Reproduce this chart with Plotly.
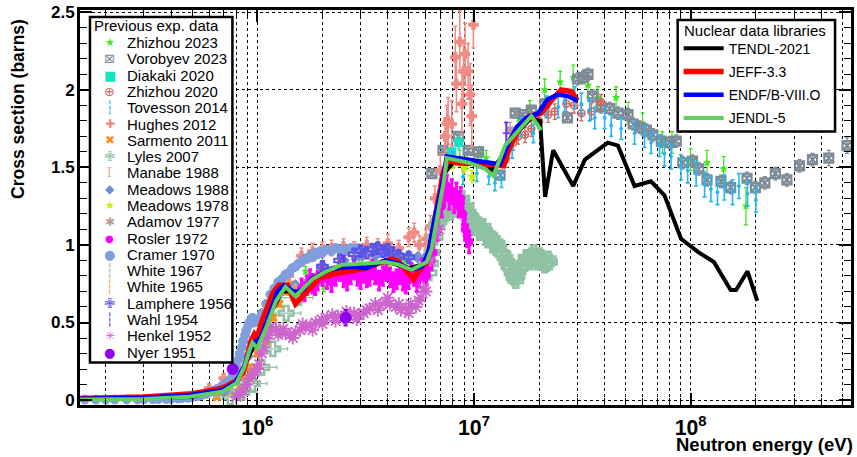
import numpy as np
import plotly.graph_objects as go

MEV = 1e6  # energies below are listed in MeV and converted to eV

# ---------------- Nuclear data libraries ----------------
tendl_E = [0.15, 0.5, 0.8, 0.95, 1.1, 1.3, 1.6, 2.0, 3.0, 4.0, 5.0, 6.0, 6.6, 7.2, 8.0, 10.0, 12.0, 14.0,
           16.0, 18.4, 20.2, 21.3, 23.2, 28.7, 32.5, 41.5, 46.2, 55.1, 65.6, 75.7, 90.3, 108, 128, 153, 162, 183, 203]
tendl_s = [0.005, 0.02, 0.11, 0.33, 0.5, 0.7, 0.7, 0.8, 0.87, 0.89, 0.85, 0.88, 1.15, 1.45, 1.53, 1.52, 1.48, 1.6,
           1.73, 1.82, 1.80, 1.31, 1.61, 1.38, 1.55, 1.66, 1.64, 1.38, 1.41, 1.32, 1.04, 0.955, 0.89, 0.71, 0.71, 0.83, 0.64]

jeff_E = [0.15, 0.3, 0.5, 0.69, 0.8, 0.86, 0.89, 0.935, 0.97, 1.0, 1.04, 1.1, 1.18, 1.26, 1.38, 1.5, 1.64, 1.93,
          2.21, 2.65, 3.16, 3.76, 4.19, 4.5, 5.0, 5.27, 5.55, 6.05, 6.38, 6.87, 7.2, 7.6, 8.3, 9.9, 11.9, 13.7,
          14.6, 16.3, 18.1, 20.4, 22.7, 25.3, 28.1, 30.0]
jeff_s = [0.01, 0.02, 0.04, 0.075, 0.125, 0.18, 0.25, 0.38, 0.425, 0.40, 0.49, 0.59, 0.69, 0.74, 0.74, 0.62, 0.68, 0.785,
          0.81, 0.83, 0.85, 0.89, 0.91, 0.89, 0.81, 0.78, 0.83, 0.89, 1.04, 1.29, 1.46, 1.55, 1.53, 1.53, 1.52, 1.51,
          1.63, 1.76, 1.83, 1.85, 1.93, 2.0, 1.99, 1.93]

endf_E = [0.15, 0.3, 0.487, 0.69, 0.798, 0.871, 0.935, 0.986, 1.04, 1.135, 1.24, 1.33, 1.506, 1.645, 1.795, 2.22,
          2.74, 3.16, 3.90, 4.49, 5.17, 5.75, 6.17, 6.63, 7.11, 7.49, 8.33, 9.94, 11.87, 13.2, 14.7, 15.75, 17.5,
          19.8, 21.9, 24.4, 27.1, 30.0]
endf_s = [0.008, 0.015, 0.032, 0.064, 0.117, 0.22, 0.34, 0.38, 0.40, 0.55, 0.70, 0.74, 0.69, 0.72, 0.785, 0.85,
          0.86, 0.85, 0.90, 0.88, 0.84, 0.86, 0.955, 1.19, 1.38, 1.57, 1.56, 1.54, 1.53, 1.52, 1.68, 1.76, 1.82,
          1.85, 1.94, 1.97, 1.96, 1.93]

jendl_E = [0.15, 0.3, 0.487, 0.69, 0.8, 0.87, 0.92, 0.95, 1.0, 1.1, 1.22, 1.35, 1.5, 1.65, 1.8, 2.07, 2.46, 3.16,
           3.91, 4.5, 5.16, 6.05, 6.38, 6.87, 7.24, 7.5, 8.2, 9.44, 11.3, 12.3, 13.9, 16.0, 18.4, 20.4]
jendl_s = [0.003, 0.006, 0.021, 0.053, 0.108, 0.21, 0.32, 0.37, 0.335, 0.467, 0.637, 0.73, 0.67, 0.73, 0.78, 0.828,
           0.873, 0.881, 0.89, 0.873, 0.84, 0.89, 0.976, 1.23, 1.40, 1.56, 1.55, 1.53, 1.49, 1.446, 1.64, 1.74, 1.83, 1.74]

# ---------------- Previous experimental data ----------------
zh23_E = [1.67, 2.03, 2.3, 4.8, 8.6, 9.3, 10.5, 10.8, 11.4, 14.5, 16.0, 18.1, 21.2, 25.0, 28.7, 33.6, 37.4,
          45.3, 51.4, 60.0, 74.0, 82.0, 100.0, 119.0, 142.0, 180.0]
zh23_s = [0.83, 0.73, 0.81, 0.90, 1.56, 1.54, 1.58, 1.58, 1.56, 1.62, 1.74, 1.87, 2.00, 2.05, 2.08, 2.03, 1.95,
          1.95, 1.85, 1.78, 1.66, 1.66, 1.55, 1.53, 1.49, 1.25]
zh23_err = [0.03, 0.03, 0.03, 0.03, 0.05, 0.05, 0.05, 0.05, 0.05, 0.06, 0.06, 0.06, 0.07, 0.07, 0.08, 0.08, 0.07,
            0.07, 0.07, 0.07, 0.07, 0.07, 0.07, 0.08, 0.08, 0.12]

vor_E = [6.4, 7.2, 8.5, 9.4, 10.5, 13.2, 15.5, 16.8, 18.4, 21.2, 27.0, 30.1, 31.9, 33.6, 35.3, 38.6, 42.3, 46.2,
         51.4, 54.3, 58.2, 62.5, 67.0, 73.2, 80.0, 85.8, 92.0, 102, 109, 119, 138, 153, 182, 199, 220, 246, 278,
         318, 365, 434, 527]
vor_s = [1.46, 1.61, 1.70, 1.61, 1.60, 1.45, 1.85, 1.84, 1.87, 1.91, 1.82, 2.07, 2.08, 2.10, 1.96, 1.89, 1.88, 1.85,
         1.84, 1.78, 1.76, 1.74, 1.71, 1.67, 1.66, 1.67, 1.53, 1.54, 1.49, 1.42, 1.41, 1.37, 1.43, 1.37, 1.40, 1.46,
         1.42, 1.51, 1.55, 1.56, 1.64]
vor_err = [0.03, 0.03, 0.03, 0.03, 0.03, 0.03, 0.03, 0.03, 0.03, 0.03, 0.03, 0.04, 0.04, 0.04, 0.04, 0.04, 0.04, 0.04,
           0.04, 0.04, 0.04, 0.04, 0.04, 0.04, 0.04, 0.04, 0.04, 0.04, 0.04, 0.04, 0.04, 0.04, 0.04, 0.04, 0.04, 0.04,
           0.04, 0.04, 0.04, 0.05, 0.05]

diak_E = [7.9, 8.5]
diak_s = [1.60, 1.66]
diak_err = [0.04, 0.04]

zh20_E = [14.0, 15.2, 16.0, 17.2, 18.4, 20.0, 22.0, 23.6, 26.7, 29.0, 31.3, 34.8, 38.6]
zh20_s = [1.55, 1.66, 1.70, 1.71, 1.75, 1.80, 1.84, 1.86, 1.91, 1.90, 1.85, 1.86, 1.92]
zh20_err = [0.05, 0.05, 0.05, 0.05, 0.05, 0.05, 0.05, 0.05, 0.05, 0.05, 0.05, 0.05, 0.05]

tov_E = [0.6, 0.7, 0.8, 0.9, 1.0, 1.2, 1.5, 2.0, 3.0, 4.0, 5.0, 6.0, 6.5, 7.0, 8.0, 8.9, 10.3, 11.7, 12.5, 13.4,
         15.0, 16.5, 18.8, 21.6, 24.5, 26.2, 29.2, 31.3, 34.2, 36.1, 40.1, 43.0, 47.8, 55.1, 61.2, 65.7, 71.8, 75.7,
         81.2, 90.3, 96.9, 106, 116, 124, 133, 143, 156, 167, 183, 200]
tov_s = [0.04, 0.06, 0.11, 0.28, 0.36, 0.62, 0.68, 0.82, 0.87, 0.88, 0.84, 0.88, 1.05, 1.38, 1.55, 1.44, 1.46, 1.44,
         1.40, 1.42, 1.62, 1.76, 1.72, 1.89, 1.89, 1.93, 1.95, 1.91, 1.87, 1.82, 1.82, 1.77, 1.75, 1.72, 1.70, 1.66,
         1.64, 1.59, 1.57, 1.50, 1.48, 1.46, 1.39, 1.36, 1.34, 1.37, 1.34, 1.38, 1.33, 1.29]
tov_err = [0.01, 0.01, 0.01, 0.02, 0.02, 0.02, 0.02, 0.02, 0.02, 0.02, 0.02, 0.02, 0.03, 0.04, 0.05, 0.05, 0.05, 0.05,
           0.05, 0.05, 0.06, 0.06, 0.06, 0.07, 0.07, 0.07, 0.07, 0.07, 0.07, 0.07, 0.07, 0.07, 0.07, 0.07, 0.07, 0.07,
           0.07, 0.08, 0.08, 0.08, 0.08, 0.08, 0.08, 0.08, 0.08, 0.08, 0.08, 0.08, 0.08, 0.08]

hug_E = [0.6, 0.7, 1.4, 1.6, 1.8, 2.0, 2.2, 2.5, 2.8, 3.2, 3.6, 4.0, 4.5, 5.0, 5.3, 5.6, 6.0, 6.3, 6.6, 7.0, 7.36,
         7.5, 7.6, 7.9, 8.2, 8.3, 8.6, 8.8, 8.95, 9.1, 9.4, 9.6, 9.77, 9.94]
hug_s = [0.075, 0.14, 0.80, 0.93, 0.96, 0.97, 0.98, 0.99, 0.97, 1.00, 0.99, 1.01, 0.98, 1.05, 1.08, 1.00, 1.04, 1.12,
         1.30, 1.48, 1.70, 1.78, 1.80, 1.78, 2.21, 2.04, 2.31, 1.91, 2.12, 2.23, 2.12, 1.97, 1.83, 2.42]
hug_err = [0.02, 0.03, 0.04, 0.05, 0.05, 0.05, 0.05, 0.05, 0.05, 0.05, 0.05, 0.06, 0.05, 0.06, 0.06, 0.06, 0.06, 0.07,
           0.08, 0.10, 0.12, 0.12, 0.15, 0.15, 0.20, 0.18, 0.20, 0.20, 0.20, 0.20, 0.18, 0.20, 0.20, 0.15]

sar_E = [0.65, 0.75, 0.83, 0.89, 0.92, 1.0, 1.1, 1.18, 1.26, 1.35, 1.42, 1.56, 1.73, 1.93, 2.1]
sar_s = [0.02, 0.05, 0.085, 0.15, 0.21, 0.30, 0.38, 0.53, 0.62, 0.70, 0.74, 0.72, 0.76, 0.80, 0.83]
sar_err = [0.01, 0.01, 0.01, 0.01, 0.02, 0.02, 0.02, 0.02, 0.02, 0.02, 0.02, 0.02, 0.02, 0.02, 0.02]

lyl_E = [0.75, 0.85, 0.95, 1.05, 1.18, 1.36, 1.55,
         6.2, 6.4, 6.6, 6.9, 7.1, 7.3, 7.5, 7.7, 7.9, 8.1, 8.3, 8.5, 8.7, 8.9, 9.1, 9.4, 9.7, 10.0, 10.4, 10.8, 11.2,
         11.6, 12.0, 12.5, 13.0, 13.6, 14.2, 14.8, 15.3, 15.8, 16.3, 17.0, 17.8, 18.5, 19.3, 20.0, 20.8, 21.6, 22.3,
         6.3, 6.75, 7.0, 7.4, 7.8, 8.0, 8.4, 8.8, 9.2, 9.55, 9.85, 10.2, 10.6, 11.0, 11.4, 11.8, 12.2, 12.8, 13.3,
         13.9, 14.5, 15.0, 15.6, 16.0, 16.7, 17.4, 18.1, 18.9, 19.6, 20.4, 21.2, 22.0]
lyl_s = [0.02, 0.05, 0.106, 0.21, 0.33, 0.56, 0.66,
         0.82, 0.95, 1.05, 1.15, 1.20, 1.22, 1.24, 1.23, 1.25, 1.27, 1.26, 1.29, 1.27, 1.25, 1.22, 1.21, 1.17, 1.16,
         1.13, 1.10, 1.08, 1.07, 1.04, 1.02, 0.98, 0.94, 0.89, 0.85, 0.79, 0.80, 0.85, 0.88, 0.91, 0.93, 0.91, 0.93,
         0.90, 0.88, 0.89,
         0.88, 1.12, 1.17, 1.27, 1.21, 1.29, 1.23, 1.30, 1.25, 1.19, 1.13, 1.15, 1.08, 1.12, 1.05, 1.06, 1.00, 1.01,
         0.95, 0.92, 0.86, 0.82, 0.77, 0.83, 0.86, 0.92, 0.89, 0.95, 0.89, 0.92, 0.87, 0.91]
lyl_xerr = [0.12, 0.14, 0.16, 0.18, 0.20, 0.23, 0.26] + [0.0] * 71

man_E = [1.5, 2.0, 2.6, 3.3, 4.1, 5.0]
man_s = [0.72, 0.83, 0.87, 0.88, 0.89, 0.86]
man_err = [0.03, 0.03, 0.03, 0.03, 0.03, 0.03]

mea88_E = [0.7, 0.8, 0.9, 1.0, 1.2, 1.5, 2.0, 2.5, 3.0, 3.5, 4.0, 4.5, 5.0, 5.5, 6.0]
mea88_s = [0.055, 0.13, 0.28, 0.40, 0.66, 0.74, 0.86, 0.90, 0.92, 0.93, 0.95, 0.94, 0.93, 0.92, 0.92]
mea88_err = [0.01, 0.01, 0.02, 0.02, 0.02, 0.02, 0.02, 0.02, 0.02, 0.02, 0.02, 0.02, 0.02, 0.02, 0.02]

mea78_E = [1.0, 1.5, 2.0, 3.0, 4.0, 5.0, 6.0, 8.0, 9.0, 9.8]
mea78_s = [0.38, 0.72, 0.82, 0.87, 0.88, 0.85, 0.88, 1.53, 1.50, 1.44]
mea78_err = [0.02, 0.02, 0.02, 0.02, 0.02, 0.02, 0.02, 0.04, 0.04, 0.04]

ada_E = [1.5, 2.5, 4.5, 14.7]
ada_s = [0.71, 0.86, 0.89, 1.74]
ada_err = [0.03, 0.03, 0.03, 0.05]

ros_E = [1.6, 1.7, 1.8, 1.9, 2.1, 2.3, 2.5, 2.7, 2.9, 3.1, 3.3, 3.5, 3.8, 4.1, 4.4, 4.7, 5.0, 5.3, 5.6, 5.9, 6.2,
         6.5, 6.8, 7.1, 7.3, 7.5, 7.7, 7.9, 8.1, 8.3, 8.5, 8.7, 8.9, 9.1, 9.3, 9.5,
         1.65, 1.75, 1.85, 2.0, 2.2, 2.4, 2.6, 2.8, 3.0, 3.2, 3.4, 3.65, 3.95, 4.25, 4.55, 4.85, 5.15, 5.45, 5.75,
         6.05, 6.35]
ros_s = [0.72, 0.74, 0.75, 0.77, 0.78, 0.80, 0.79, 0.81, 0.80, 0.82, 0.80, 0.81, 0.80, 0.79, 0.78, 0.77, 0.78, 0.80,
         0.79, 0.82, 0.86, 0.95, 1.10, 1.25, 1.33, 1.38, 1.30, 1.35, 1.28, 1.33, 1.25, 1.30, 1.20, 1.10, 1.06, 1.02,
         0.70, 0.78, 0.74, 0.80, 0.76, 0.83, 0.77, 0.84, 0.78, 0.79, 0.84, 0.77, 0.83, 0.76, 0.81, 0.75, 0.82, 0.76,
         0.85, 0.80, 0.90]
ros_err = [0.06, 0.06, 0.06, 0.06, 0.06, 0.06, 0.06, 0.06, 0.06, 0.06, 0.06, 0.06, 0.06, 0.06, 0.06, 0.06, 0.06, 0.06,
           0.06, 0.06, 0.06, 0.06, 0.07, 0.07, 0.07, 0.07, 0.07, 0.07, 0.07, 0.07, 0.07, 0.07, 0.07, 0.07, 0.07, 0.07,
           0.06, 0.06, 0.06, 0.06, 0.06, 0.06, 0.06, 0.06, 0.06, 0.06, 0.06, 0.06, 0.06, 0.06, 0.06, 0.06, 0.06, 0.06,
           0.06, 0.06, 0.06]

cra_E = [0.16, 0.2, 0.25, 0.3, 0.35, 0.4, 0.45, 0.5, 0.55, 0.6, 0.65, 0.7, 0.74, 0.77, 0.8, 0.83, 0.86, 0.89,
         0.92, 0.95, 1.0, 1.05, 1.1, 1.2, 1.3, 1.4, 1.5, 1.6, 1.7, 1.8, 1.9, 2.0, 2.2, 2.4, 2.6, 2.8, 3.0,
         0.18, 0.22, 0.28, 0.33, 0.38, 0.43, 0.48, 0.53, 0.58, 0.63, 0.68, 0.72, 0.76, 0.79, 0.82, 0.85, 0.88, 0.91,
         0.94, 0.97, 1.15, 1.25, 1.35, 1.45, 1.55, 1.65, 1.75, 1.85, 1.95, 2.1, 2.3, 2.5, 2.7, 2.9]
cra_s = [0.003, 0.003, 0.004, 0.005, 0.006, 0.008, 0.012, 0.02, 0.03, 0.05, 0.07, 0.10, 0.12, 0.16, 0.22, 0.30,
         0.38, 0.45, 0.50, 0.53, 0.52, 0.56, 0.62, 0.72, 0.78, 0.82, 0.86, 0.89, 0.91, 0.92, 0.94, 0.95, 0.96, 0.97,
         0.96, 0.97, 0.96,
         0.003, 0.003, 0.004, 0.005, 0.007, 0.010, 0.015, 0.025, 0.04, 0.06, 0.085, 0.11, 0.14, 0.19, 0.26, 0.34,
         0.42, 0.48, 0.52, 0.50, 0.68, 0.76, 0.81, 0.85, 0.88, 0.91, 0.93, 0.95, 0.96, 0.97, 0.98, 0.97, 0.98, 0.98]

w67_E = [2.0, 3.0, 4.0, 5.0, 6.0]
w67_s = [0.84, 0.87, 0.88, 0.85, 0.88]
w65_E = [1.0, 1.5, 2.0, 3.0]
w65_s = [0.38, 0.70, 0.80, 0.86]

lam_E = [2.0, 2.4, 2.8, 3.0, 3.2, 3.4, 3.6, 3.8, 4.0, 4.2, 4.5, 5.0]
lam_s = [0.86, 0.90, 0.94, 0.96, 0.95, 0.97, 0.98, 0.96, 0.97, 0.95, 0.93, 0.92]
lam_err = [0.04, 0.04, 0.04, 0.04, 0.04, 0.04, 0.04, 0.04, 0.04, 0.04, 0.04, 0.04]

wahl_E = [2.5, 14.1]
wahl_s = [0.87, 1.72]
wahl_err = [0.06, 0.07]

hen_E = [0.80, 0.86, 0.92, 0.97, 1.02, 1.07, 1.12, 1.17, 1.22, 1.28, 1.35, 1.42, 1.50, 1.58, 1.67, 1.76, 1.86,
         1.98, 2.1, 2.22, 2.36, 2.5, 2.65, 2.8, 2.95, 3.1, 3.3, 3.5, 3.7, 3.9, 4.1, 4.35, 4.6, 4.85, 5.1, 5.4, 5.7,
         6.0, 6.3, 6.6, 6.9,
         0.83, 0.89, 0.95, 1.0, 1.05, 1.1, 1.15, 1.25, 1.32, 1.46, 1.62, 1.8, 2.0, 2.3, 2.58, 2.88, 3.2, 3.6, 4.0,
         4.5, 5.0, 5.55, 5.85]
hen_s = [0.02, 0.06, 0.14, 0.18, 0.23, 0.34, 0.42, 0.45, 0.46, 0.44, 0.43, 0.42, 0.44, 0.45, 0.47, 0.48, 0.50,
         0.52, 0.53, 0.55, 0.54, 0.53, 0.54, 0.56, 0.55, 0.56, 0.59, 0.62, 0.61, 0.63, 0.62, 0.60, 0.58, 0.59, 0.62,
         0.60, 0.66, 0.70, 0.90, 1.06, 1.10,
         0.04, 0.10, 0.16, 0.20, 0.30, 0.40, 0.47, 0.42, 0.46, 0.40, 0.49, 0.45, 0.49, 0.51, 0.57, 0.52, 0.58, 0.58,
         0.66, 0.62, 0.56, 0.64, 0.72]

nyer_E = [0.77, 2.56]
nyer_s = [0.20, 0.53]
nyer_err = [0.03, 0.05]

FONT = "Liberation Sans, Arial, sans-serif"
W, H = 857, 457
ML, MR, MT, MB = 80, 3, 5, 52
PW, PH = W - ML - MR, H - MT - MB


def px2x(px):  # page pixel -> paper x
    return (px - ML) / PW


def py2y(py):  # page pixel -> paper y
    return (H - MB - py) / PH


fig = go.Figure()
exp_legend = []  # (name, glyph, colour, glyph size, glyph font)


def add_exp(name, E, s, color, symbol, size, glyph, gsize, err=None, xerr=None, lw=1.0, ethick=1.3, cap=2,
            gfont="DejaVu Sans"):
    ey = dict(type="data", array=err, visible=True, color=color, thickness=ethick, width=cap) if err is not None else None
    ex = dict(type="data", array=np.array(xerr) * MEV, visible=True, color=color, thickness=ethick,
              width=cap) if xerr is not None else None
    fig.add_trace(go.Scatter(
        x=np.array(E) * MEV, y=s, mode="markers", name=name, showlegend=False,
        marker=dict(symbol=symbol, size=size, color=color, line=dict(color=color, width=lw)),
        error_y=ey, error_x=ex))
    exp_legend.append((name, glyph, color, gsize, gfont))


add_exp("Zhizhou 2023", zh23_E, zh23_s, "#3fe81a", "star", 5, "★", 11, zh23_err)
add_exp("Vorobyev 2023", vor_E, vor_s, "#7d8a97", "square-x-open", 9, "⊠", 13, vor_err, lw=2.2)
add_exp("Diakaki 2020", diak_E, diak_s, "#14e3c0", "square", 8, "■", 13, diak_err)
add_exp("Zhizhou 2020", zh20_E, zh20_s, "#d9625c", "circle-cross-open", 7, "⊕", 13, zh20_err, lw=1.5)
add_exp("Tovesson 2014", tov_E, tov_s, "#25b6ef", "circle", 3, "┆", 13, tov_err, ethick=1.6)
add_exp("Hughes 2012", hug_E, hug_s, "#f08a84", "cross", 8, "✚", 12, hug_err, ethick=1.6)
add_exp("Sarmento 2011", sar_E, sar_s, "#ff8c1a", "x", 8, "✖", 12, sar_err)
add_exp("Lyles 2007", lyl_E, lyl_s, "#8fc2a2", "cross-open", 12, "✙", 13, None, xerr=lyl_xerr, lw=2.5)
add_exp("Manabe 1988", man_E, man_s, "#dcb68a", "line-ew", 4, "I", 12, man_err, gfont="DejaVu Serif")
add_exp("Meadows 1988", mea88_E, mea88_s, "#7391d6", "diamond", 9, "◆", 12, mea88_err)
add_exp("Meadows 1978", mea78_E, mea78_s, "#c8f000", "star", 7, "★", 11, mea78_err)
add_exp("Adamov 1977", ada_E, ada_s, "#bc9b9b", "x", 7, "✱", 12, ada_err)
add_exp("Rosler 1972", ros_E, ros_s, "#ff00ff", "circle", 8, "●", 10, ros_err, ethick=3)
add_exp("Cramer 1970", cra_E, cra_s, "#7f9edb", "circle", 9, "●", 13)
add_exp("White 1967", w67_E, w67_s, "#a4ada4", "line-ew-open", 5, "┆", 13, lw=1.5)
add_exp("White 1965", w65_E, w65_s, "#ff9a2a", "line-ew-open", 5, "┆", 13, lw=1.5)
add_exp("Lamphere 1956", lam_E, lam_s, "#5b52e6", "cross-open", 9, "✙", 13, lam_err, lw=2)
add_exp("Wahl 1954", wahl_E, wahl_s, "#6a2cff", "line-ew-open", 5, "┆", 13, wahl_err, lw=1.5, ethick=2)
add_exp("Henkel 1952", hen_E, hen_s, "#cc66cc", "asterisk-open", 11, "✳", 12, lw=1.8)
add_exp("Nyer 1951", nyer_E, nyer_s, "#8f00f0", "circle", 11, "●", 13, nyer_err, ethick=2)

libs = [("TENDL-2021", tendl_E, tendl_s, "black", 4),
        ("JEFF-3.3", jeff_E, jeff_s, "#ff0000", 5.5),
        ("ENDF/B-VIII.O", endf_E, endf_s, "#0000ff", 4.5),
        ("JENDL-5", jendl_E, jendl_s, "#5fcf5f", 4)]
for name, E, s, col, w in libs:
    fig.add_trace(go.Scatter(x=np.array(E) * MEV, y=s, mode="lines", name=name, legend="legend2",
                             legendgroup=name, line=dict(color=col, width=w)))

# ---- legend boxes: frames are shapes, titles and left-legend rows are real text ----
annotations = [
    dict(text="Cross section (barns)", xref="paper", yref="paper", x=px2x(18), y=py2y(105),
         xanchor="center", yanchor="middle", textangle=-90, showarrow=False,
         font=dict(family=FONT, size=17.5, color="black", weight="bold")),
    dict(text="Neutron energy (eV)", xref="paper", yref="paper", x=px2x(676), y=py2y(445),
         xanchor="left", yanchor="middle", showarrow=False,
         font=dict(family=FONT, size=18.5, color="black", weight="bold")),
    dict(text="Previous exp. data", xref="paper", yref="paper", x=px2x(92), y=py2y(21),
         xanchor="left", yanchor="middle", showarrow=False,
         font=dict(family=FONT, size=15, color="black")),
    dict(text="Nuclear data libraries", xref="paper", yref="paper", x=px2x(685), y=py2y(26),
         xanchor="left", yanchor="middle", showarrow=False, borderpad=0,
         font=dict(family=FONT, size=15, color="black")),
]
ROW0, ROWSTEP = 38, 16.5
for i, (name, glyph, col, gsize, gfont) in enumerate(exp_legend):
    yrow = py2y(ROW0 + ROWSTEP * i)
    annotations.append(dict(text=glyph, xref="paper", yref="paper", x=px2x(110), y=yrow,
                            xanchor="center", yanchor="middle", showarrow=False, borderpad=0,
                            font=dict(family=gfont, size=gsize, color=col)))
    annotations.append(dict(text=name, xref="paper", yref="paper", x=px2x(126), y=yrow,
                            xanchor="left", yanchor="middle", showarrow=False, borderpad=0,
                            font=dict(family=FONT, size=15, color="black")))

shapes = [
    dict(type="rect", xref="paper", yref="paper", x0=px2x(90), x1=px2x(233), y0=py2y(362), y1=py2y(12),
         line=dict(color="black", width=2.5), fillcolor="white", layer="above"),
    dict(type="rect", xref="paper", yref="paper", x0=px2x(680), x1=px2x(838), y0=py2y(128), y1=py2y(15),
         line=dict(color="black", width=2.5), fillcolor="white", layer="above"),
]

tickfont = dict(family=FONT, size=17, color="black", weight="bold")
fig.update_layout(
    width=W, height=H,
    margin=dict(l=ML, r=MR, t=MT, b=MB),
    paper_bgcolor="white", plot_bgcolor="white",
    font=dict(family=FONT, color="black"),
    xaxis=dict(type="log", range=[5.182, 8.740], dtick=1, exponentformat="power", showexponent="all",
               ticks="inside", ticklen=12, tickwidth=1.5, tickcolor="black",
               showline=True, linewidth=3, linecolor="black", mirror="ticks",
               showgrid=True, gridcolor="black", griddash="dot", gridwidth=1,
               minor=dict(dtick="D1", ticks="inside", ticklen=7, tickwidth=1.2, tickcolor="black",
                          showgrid=True, gridcolor="black", griddash="dot", gridwidth=1),
               tickfont=tickfont, ticklabelstandoff=2, zeroline=False),
    yaxis=dict(range=[-0.032, 2.515], dtick=0.5, tick0=0,
               ticks="inside", ticklen=12, tickwidth=1.5, tickcolor="black",
               showline=True, linewidth=3, linecolor="black", mirror="ticks",
               showgrid=True, gridcolor="black", griddash="dot", gridwidth=1,
               minor=dict(dtick=0.1, ticks="inside", ticklen=7, tickwidth=1.2, tickcolor="black", showgrid=False),
               tickfont=tickfont, ticklabelstandoff=-1, ticklabeloverflow="allow", zeroline=False),
    legend2=dict(x=px2x(681), y=py2y(28), xanchor="left", yanchor="top", bgcolor="rgba(0,0,0,0)",
                 borderwidth=0, itemwidth=40, traceorder="grouped", tracegroupgap=2,
                 font=dict(family=FONT, size=14, color="black")),
    annotations=annotations,
    shapes=shapes,
)

fig.write_html("out.html", config={"displayModeBar": False},
               post_script="document.body.style.margin='0';document.body.style.overflow='hidden';")
